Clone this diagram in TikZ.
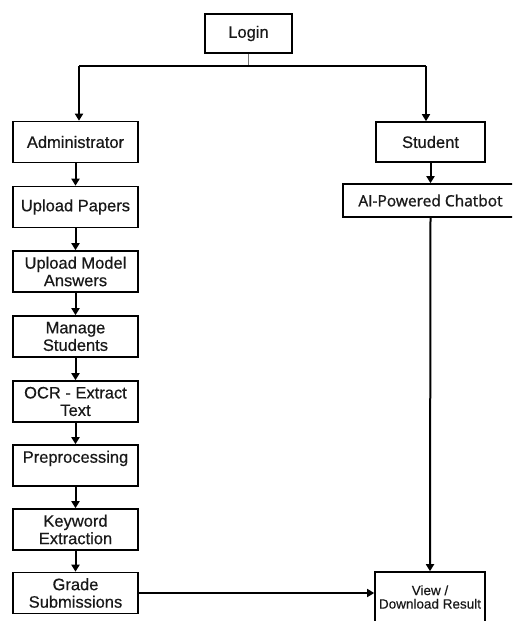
\documentclass[tikz,border=0pt]{standalone}
\usepackage{fontspec}
\setmainfont[FakeBold=0.5]{Liberation Sans}
\newfontfamily\osans[FakeBold=1.2]{Open Sans}
\usetikzlibrary{arrows.meta}
\tikzset{
  box/.style={draw=black, line width=1.6pt, fill=white, minimum width=125pt, minimum height=41pt, align=center, font=\fontsize{16.5}{17.5}\selectfont, text=black!90, inner sep=0pt},
  arr/.style={line width=2pt, -{Triangle[length=7pt,width=8pt]}},
  arrthin/.style={line width=1.4pt, -{Triangle[length=7pt,width=8pt]}}
}
\begin{document}
\begin{tikzpicture}[x=1pt,y=-1pt]
\useasboundingbox (0,0) rectangle (512,621);
\clip (0,0) rectangle (512,621);
\fill[white] (0,0) rectangle (512,621);
% nodes
\node[box, minimum width=87pt, minimum height=39pt] (login) at (248.5,33.5) {Login};
\node[box] (admin) at (75.5,142) {Administrator};
\node[box, minimum width=109pt, minimum height=40pt] (student) at (430.5,142) {Student};
\node[box, minimum width=175pt, minimum height=33pt, font=\osans\fontsize{15.5}{17}\selectfont] (chat) at (430.5,200.5) {AI-Powered Chatbot};
\node[box] (up) at (75.5,207) {Upload Papers};
\node[box] (uma) at (75.5,271.5) {Upload Model\\Answers};
\node[box] (manage) at (75.5,336.5) {Manage\\Students};
\node[box] (ocr) at (75.5,401.5) {OCR - Extract\\Text};
\node[box] (pre) at (75.5,465.5) {Preprocessing\\\phantom{X}};
\node[box] (kw) at (75.5,529.5) {Keyword\\Extraction};
\node[box] (grade) at (75.5,593) {Grade\\Submissions};
\node[box, minimum width=110pt, minimum height=50pt, font=\fontsize{13.5}{13.5}\selectfont] (view) at (430,597) {View /\\Download Result};
% connectors
\coordinate (jc) at (248.5,66);
\coordinate (jl) at (79,66);
\coordinate (jr) at (426,66);
\draw[black!55, line width=1pt] (login.south) -- (jc);
\draw[line width=2pt] (jl) -- (jr);
\draw[arr] (jl) -- (jl |- admin.north);
\draw[arrthin] (jr) -- (jr |- student.north);
\draw[arr] (student.south) -- (student.south |- chat.north);
\draw[arr] (student.south |- chat.south) -- (view.north);
\draw[arr] (admin.south) -- (up.north);
\draw[arr] (up.south) -- (uma.north);
\draw[arr] (uma.south) -- (manage.north);
\draw[arr] (manage.south) -- (ocr.north);
\draw[arr] (ocr.south) -- (pre.north);
\draw[arr] (pre.south) -- (kw.north);
\draw[arr] (kw.south) -- (grade.north);
\draw[arrthin] (grade.east) -- (grade.east -| view.west);
\end{tikzpicture}
\end{document}
